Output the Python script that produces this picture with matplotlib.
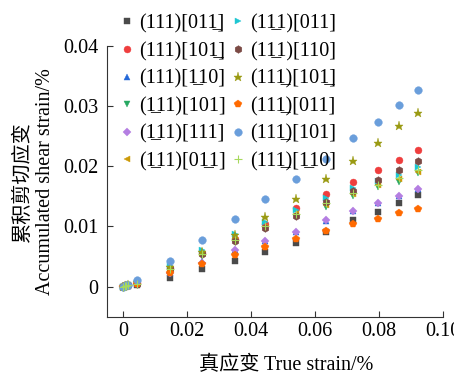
import matplotlib
matplotlib.use('Agg')
import matplotlib.pyplot as plt

plt.rcParams['font.family'] = ['Liberation Serif', 'Noto Sans CJK SC']
plt.rcParams['font.size'] = 14.5

# True strain (%) sampling points, shared by every slip system
true_strain = [0, 0.0005, 0.001, 0.0015, 0.0044, 0.0146, 0.0248, 0.0349,
               0.0443, 0.0540, 0.0633, 0.0719, 0.0797, 0.0862, 0.0922]

s_111_01m1 = [0, 0.00005, 0.0001, 0.00015, 0.0003, 0.0015, 0.0029, 0.0043, 0.0058, 0.0073, 0.0091, 0.0110, 0.0124, 0.0138, 0.0152]
s_111_10m1 = [0, 0.0001, 0.0001, 0.0002, 0.0006, 0.0031, 0.0055, 0.0079, 0.0104, 0.0130, 0.0153, 0.0173, 0.0193, 0.0210, 0.0227]
s_111_m110 = [0, 0.0001, 0.0001, 0.0001, 0.0004, 0.0023, 0.0042, 0.0061, 0.0076, 0.0091, 0.0109, 0.0125, 0.0139, 0.0151, 0.0162]
s_m111_101 = [0, 0.0001, 0.0001, 0.0002, 0.0005, 0.0028, 0.0052, 0.0074, 0.0095, 0.0115, 0.0133, 0.0151, 0.0165, 0.0174, 0.0188]
s_m111_111 = [0, 0.0001, 0.0001, 0.0001, 0.0004, 0.0023, 0.0040, 0.0060, 0.0076, 0.0091, 0.0110, 0.0125, 0.0138, 0.0151, 0.0162]
s_m111_0m11 = [0, 0.0001, 0.0001, 0.0002, 0.0005, 0.0030, 0.0054, 0.0078, 0.0099, 0.0120, 0.0136, 0.0154, 0.0169, 0.0178, 0.0190]
s_1m11_011 = [0, 0.0001, 0.0001, 0.0002, 0.0006, 0.0034, 0.0061, 0.0087, 0.0108, 0.0127, 0.0147, 0.0163, 0.0175, 0.0186, 0.0198]
s_1m11_110 = [0, 0.0001, 0.0001, 0.0002, 0.0005, 0.0029, 0.0054, 0.0076, 0.0097, 0.0118, 0.0140, 0.0159, 0.0177, 0.0193, 0.0209]
s_11m1_10m1 = [0, 0.0001, 0.0001, 0.0002, 0.0007, 0.0033, 0.0058, 0.0086, 0.0115, 0.0146, 0.0179, 0.0209, 0.0238, 0.0266, 0.0289]
s_11m1_011 = [0, 0.0001, 0.0001, 0.0001, 0.0004, 0.0022, 0.0038, 0.0053, 0.0066, 0.0079, 0.0093, 0.0104, 0.0113, 0.0122, 0.0129]
s_11m1_101 = [0, 0.0001, 0.0002, 0.0002, 0.0011, 0.0043, 0.0077, 0.0112, 0.0145, 0.0179, 0.0212, 0.0246, 0.0274, 0.0301, 0.0327]
s_11m1_m110 = [0, 0.0001, 0.0001, 0.0002, 0.0005, 0.0029, 0.0054, 0.0078, 0.0100, 0.0120, 0.0138, 0.0155, 0.0169, 0.0180, 0.0193]

# negative index written as an underlined 1 (combining low line)
u = '1\u0332'
labels = [
    f'(111)[01{u}]', f'(111)[10{u}]', f'(111)[{u}10]',
    f'({u}11)[101]', f'({u}11)[111]', f'({u}11)[0{u}1]',
    f'(1{u}1)[011]', f'(1{u}1)[110]', f'(11{u})[10{u}]',
    f'(11{u})[011]', f'(11{u})[101]', f'(11{u})[{u}10]',
]
series = [s_111_01m1, s_111_10m1, s_111_m110, s_m111_101, s_m111_111, s_m111_0m11,
          s_1m11_011, s_1m11_110, s_11m1_10m1, s_11m1_011, s_11m1_101, s_11m1_m110]
markers = ['s', 'o', '^', 'v', 'D', '<', '>', 'h', '*', 'p', 'o', '+']
colors = ['#4a4a4a', '#ef3e3e', '#2468d8', '#27a862', '#b47ee2', '#cc9a08',
          '#1ec6d2', '#7b4a45', '#9a9a12', '#ff6a00', '#6a9edb', '#a6d95c']
sizes = [4.5, 5, 5, 5, 4.5, 5, 5, 5.5, 6.5, 5.5, 5.5, 6]

fig = plt.figure(figsize=(4.54, 3.76), dpi=100)
ax = fig.add_axes([0.2357, 0.1577, 0.7407, 0.7207])

for ys, lab, m, c, ms in zip(series, labels, markers, colors, sizes):
    ax.plot(true_strain, ys, linestyle='none', marker=m, color=c,
            markersize=ms, markeredgewidth=0.8 if m == '+' else 0.3,
            label=lab, clip_on=False)

ax.set_xlim(-0.005, 0.10)
ax.set_ylim(-0.005, 0.04)
ax.set_xticks([0, 0.02, 0.04, 0.06, 0.08, 0.10])
ax.set_xticklabels(['0', '0.02', '0.04', '0.06', '0.08', '0.10'])
ax.set_yticks([0, 0.01, 0.02, 0.03, 0.04])
ax.set_yticklabels(['0', '0.01', '0.02', '0.03', '0.04'])
ax.spines['top'].set_visible(False)
ax.spines['right'].set_visible(False)
ax.tick_params(direction='in', length=4, width=0.8, color='#333333')
ax.tick_params(axis='y', pad=6)
ax.tick_params(axis='x', pad=4)
for sp in ax.spines.values():
    sp.set_linewidth(0.8)
    sp.set_color('#333333')

ax.set_xlabel('真应变 True strain/%')
ax.xaxis.set_label_coords(0.532, -0.145)
ax.set_ylabel('累积剪切应变\nAccumulated shear strain/%', labelpad=6, linespacing=1.2)

fig.legend(loc='upper left', bbox_to_anchor=(0.261, 0.962), ncol=2, frameon=False,
           handlelength=0.8, handletextpad=0.2, columnspacing=0.25,
           labelspacing=0.41, borderpad=0.0, borderaxespad=0.0, fontsize=14.5)

fig.savefig('out.png', dpi=100)
